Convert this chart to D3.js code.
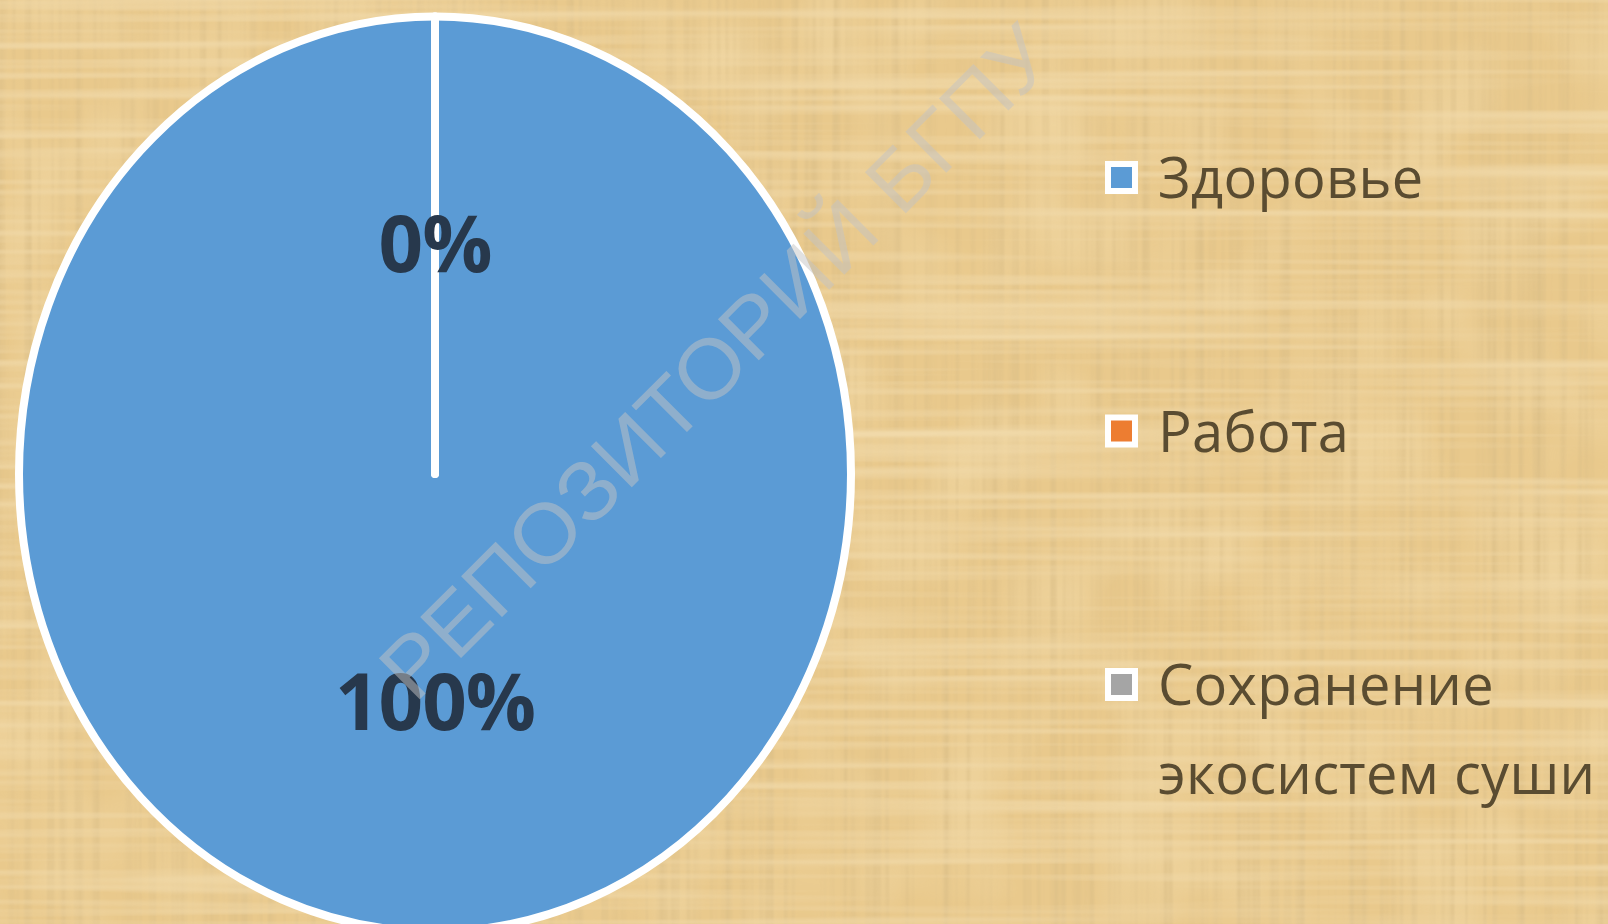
<!DOCTYPE html>
<html>
<head>
<meta charset="utf-8">
<script src="https://cdn.jsdelivr.net/npm/d3@7"></script>
<style>
  html, body { margin: 0; padding: 0; background: #eacb8e; overflow: hidden; }
  #chart svg { display: block; }
</style>
</head>
<body>
<div id="chart"></div>
<script>
// Pie: share of answers by category
const categories = ["Здоровье", "Работа", "Сохранение экосистем суши"];
const values = [100, 0, 0];
const legendLines = [["Здоровье"], ["Работа"], ["Сохранение", "экосистем суши"]];
const colors = ["#5b9bd5", "#ed7d31", "#a5a5a5"];
const watermark = "РЕПОЗИТОРИЙ БГПУ";

const width = 1608;
const height = 924;

const svg = d3.select("#chart")
  .append("svg")
  .attr("width", width)
  .attr("height", height);

// papyrus background: thin straight fibres both ways
const defs = svg.append("defs");

const fib = defs.append("filter")
  .attr("id", "fibres")
  .attr("x", 0).attr("y", 0)
  .attr("width", "100%").attr("height", "100%");

fib.append("feTurbulence")
  .attr("type", "fractalNoise")
  .attr("baseFrequency", "0.12 0.0015")
  .attr("numOctaves", 2)
  .attr("seed", 4)
  .attr("result", "vert");

fib.append("feColorMatrix")
  .attr("in", "vert")
  .attr("type", "matrix")
  .attr("values", "0 0 0 0 0.58  0 0 0 0 0.44  0 0 0 0 0.22  2.0 0 0 0 -0.85")
  .attr("result", "vertDark");

fib.append("feTurbulence")
  .attr("type", "fractalNoise")
  .attr("baseFrequency", "0.0015 0.1")
  .attr("numOctaves", 2)
  .attr("seed", 11)
  .attr("result", "horz");

fib.append("feColorMatrix")
  .attr("in", "horz")
  .attr("type", "matrix")
  .attr("values", "0 0 0 0 0.99  0 0 0 0 0.91  0 0 0 0 0.70  2.0 0 0 0 -0.85")
  .attr("result", "horzLight");

fib.append("feTurbulence")
  .attr("type", "fractalNoise")
  .attr("baseFrequency", "0.01 0.01")
  .attr("numOctaves", 2)
  .attr("seed", 7)
  .attr("result", "blot");

fib.append("feColorMatrix")
  .attr("in", "blot")
  .attr("type", "matrix")
  .attr("values", "0 0 0 0 0.98  0 0 0 0 0.88  0 0 0 0 0.62  1.6 0 0 0 -0.7")
  .attr("result", "blotLight");

const merge = fib.append("feMerge");
merge.append("feMergeNode").attr("in", "blotLight");
merge.append("feMergeNode").attr("in", "vertDark");
merge.append("feMergeNode").attr("in", "horzLight");

svg.append("rect")
  .attr("width", width)
  .attr("height", height)
  .attr("fill", "#e9c98c");

svg.append("rect")
  .attr("width", width)
  .attr("height", height)
  .attr("fill", "#000")
  .attr("filter", "url(#fibres)")
  .style("opacity", 0.38);

// pie (stretched a little vertically, like the source picture)
const cx = 435;
const cy = 474;
const radius = 416;
const sy = 1.1;

const pie = d3.pie()
  .sort(null)
  .value(d => d.value);

const data = categories.map((c, i) => ({ name: c, value: values[i], color: colors[i] }));
const arcs = pie(data);
const total = d3.sum(values);

const arc = d3.arc()
  .innerRadius(0)
  .outerRadius(radius);

const labelArc = d3.arc()
  .innerRadius(radius * 0.5)
  .outerRadius(radius * 0.5);

const pieG = svg.append("g")
  .attr("transform", `translate(${cx},${cy}) scale(1,${sy})`);

pieG.selectAll("path")
  .data(arcs)
  .enter()
  .append("path")
  .attr("d", arc)
  .attr("fill", d => d.data.color)
  .attr("stroke", "#ffffff")
  .attr("stroke-width", 8)
  .attr("stroke-linejoin", "round")
  .attr("vector-effect", "non-scaling-stroke");

// percent labels (zero slices sit on the same spot, keep one)
const seen = new Set();
const labels = arcs.filter(d => {
  const c = labelArc.centroid(d).map(v => Math.round(v)).join(",");
  if(seen.has(c)) return false;
  seen.add(c);
  return true;
});

svg.selectAll(".pct")
  .data(labels)
  .enter()
  .append("text")
  .attr("class", "pct")
  .attr("x", d => cx + labelArc.centroid(d)[0])
  .attr("y", d => cy + labelArc.centroid(d)[1] * sy - 3)
  .attr("text-anchor", "middle")
  .attr("dominant-baseline", "central")
  .style("font-family", "'Open Sans', sans-serif")
  .style("font-weight", "bold")
  .style("font-size", "78px")
  .style("letter-spacing", "-1px")
  .style("fill", "#27384c")
  .text(d => Math.round(d.value / total * 100) + "%");

// legend
const legendY = d3.scalePoint()
  .domain(categories)
  .range([178, 685]);

const legend = svg.selectAll(".legend")
  .data(data)
  .enter()
  .append("g")
  .attr("class", "legend")
  .attr("transform", d => `translate(1108,${legendY(d.name)})`);

legend.append("rect")
  .attr("x", 0)
  .attr("y", -14)
  .attr("width", 27)
  .attr("height", 27)
  .attr("fill", d => d.color)
  .attr("stroke", "#ffffff")
  .attr("stroke-width", 6);

legend.append("text")
  .attr("x", 50)
  .attr("y", 20)
  .style("font-family", "'Open Sans', sans-serif")
  .style("font-size", "56px")
  .style("letter-spacing", "0.3px")
  .style("fill", "#5a4c31")
  .selectAll("tspan")
  .data((d, i) => legendLines[i])
  .enter()
  .append("tspan")
  .attr("x", 50)
  .attr("dy", (d, i) => i === 0 ? 0 : 89)
  .text(d => d);

// watermark
svg.append("text")
  .attr("transform", "translate(716,362) rotate(-45)")
  .attr("text-anchor", "middle")
  .attr("dominant-baseline", "central")
  .attr("textLength", 910)
  .attr("lengthAdjust", "spacingAndGlyphs")
  .style("font-family", "'Liberation Sans', Arial, sans-serif")
  .style("font-size", "84px")
  .style("fill", "#c4c4c4")
  .style("opacity", 0.5)
  .text(watermark);
</script>
</body>
</html>
